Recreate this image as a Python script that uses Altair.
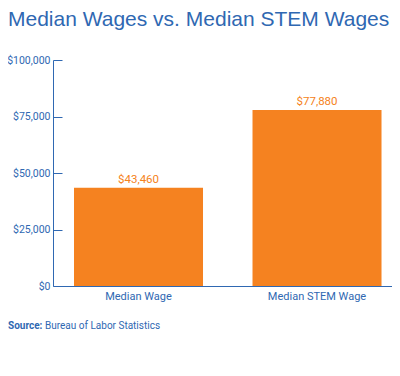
import altair as alt
import pandas as pd

categories = ["Median Wage", "Median STEM Wage"]
wages = [43460, 77880]
labels = ["$43,460", "$77,880"]
y_ticks = [0, 25000, 50000, 75000, 100000]

BLUE = "#2F68B2"
ORANGE = "#F58220"
FONT = "Roboto"

df = pd.DataFrame({"category": categories, "wage": wages, "label": labels})

W, H = 339, 226

xenc = alt.X(
    "category:N",
    sort=categories,
    title=None,
    scale=alt.Scale(paddingInner=0.2773, paddingOuter=0.0882, align=0.667),
    axis=alt.Axis(labelAngle=0, ticks=False, domainColor=BLUE, labelColor=BLUE,
                  labelFont=FONT, labelFontSize=11, labelPadding=4, domainWidth=1),
)

yscale = alt.Scale(domain=[0, 100000])

bars = alt.Chart(df).mark_bar(color=ORANGE).encode(
    x=xenc,
    y=alt.Y("wage:Q", scale=yscale, title=None,
            axis=alt.Axis(values=y_ticks, format="$,d", tickSize=0, labelPadding=3,
                          domainColor=BLUE, labelColor=BLUE, labelFont=FONT,
                          labelFontSize=10.5, grid=False, domainWidth=1)),
)

text = alt.Chart(df).mark_text(color=ORANGE, font=FONT, fontSize=11.5, dy=-5,
                               baseline="alphabetic").encode(
    x=alt.X("category:N", sort=categories),
    y=alt.Y("wage:Q", scale=yscale,
            axis=alt.Axis(orient="right", offset=-W, values=y_ticks, labels=False,
                          domain=False, tickSize=9, tickColor=BLUE, grid=False, title=None)),
    text="label:N",
)

src1 = alt.Chart(df.head(1)).mark_text(
    text="Source:", font=FONT, fontSize=10, fontWeight="bold", color=BLUE,
    align="left", baseline="middle"
).encode(x=alt.value(-45), y=alt.value(H + 40))

src2 = alt.Chart(df.head(1)).mark_text(
    text="Bureau of Labor Statistics", font=FONT, fontSize=10, color=BLUE,
    align="left", baseline="middle"
).encode(x=alt.value(-8), y=alt.value(H + 40))

chart = alt.layer(bars, text, src1, src2).resolve_axis(y="independent").properties(
    width=W, height=H,
    autosize=alt.AutoSizeParams(type="none"),
    padding={"left": 45, "top": 52, "right": 0, "bottom": 80},
    title=alt.TitleParams(
        "Median Wages vs. Median STEM Wages", anchor="start", frame="group",
        dx=-45, offset=25, font="Liberation Sans", fontSize=21, fontWeight="normal",
        color=BLUE,
    ),
).configure_view(stroke=None)

chart.save("out.html", embed_options={"renderer": "svg", "actions": False})
